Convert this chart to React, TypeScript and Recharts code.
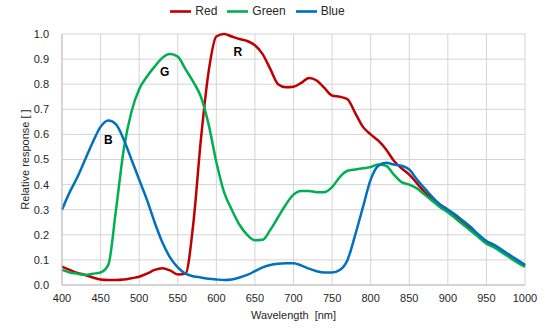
import { LineChart, Line, XAxis, YAxis, CartesianGrid, Legend, ReferenceDot } from 'recharts';

const wavelengths = [
  400, 410, 420, 430, 440, 450, 460, 470, 480, 490,
  500, 510, 520, 530, 540, 550, 560, 570, 580, 590,
  600, 610, 620, 630, 640, 650, 660, 670, 680, 690,
  700, 710, 720, 730, 740, 750, 760, 770, 780, 790,
  800, 810, 820, 830, 840, 850, 860, 870, 880, 890,
  900, 910, 920, 930, 940, 950, 960, 970, 980, 990, 1000,
];

const redValues = [
  0.073, 0.06, 0.048, 0.04, 0.03, 0.022, 0.02, 0.02, 0.022, 0.027,
  0.033, 0.045, 0.06, 0.067, 0.058, 0.042, 0.045, 0.24, 0.58, 0.85,
  0.99, 1.0, 0.99, 0.98, 0.972, 0.955, 0.92, 0.86, 0.8, 0.788,
  0.79, 0.805, 0.825, 0.815, 0.785, 0.755, 0.75, 0.74, 0.685, 0.63,
  0.6, 0.575, 0.54, 0.495, 0.465, 0.44, 0.405, 0.37, 0.345, 0.32,
  0.3, 0.275, 0.25, 0.22, 0.195, 0.17, 0.155, 0.135, 0.115, 0.095, 0.077,
];

const greenValues = [
  0.06, 0.05, 0.045, 0.04, 0.045, 0.05, 0.08, 0.3, 0.54, 0.69,
  0.78, 0.83, 0.87, 0.905, 0.92, 0.91, 0.86, 0.81, 0.75, 0.64,
  0.49, 0.37, 0.3, 0.24, 0.2, 0.178, 0.18, 0.22, 0.27, 0.32,
  0.36, 0.375, 0.375, 0.37, 0.37, 0.39, 0.43, 0.455, 0.46, 0.465,
  0.47, 0.48, 0.475, 0.44, 0.41, 0.4, 0.385, 0.36, 0.335, 0.31,
  0.29, 0.265, 0.24, 0.215, 0.19, 0.165, 0.15, 0.13, 0.11, 0.09, 0.072,
];

const blueValues = [
  0.3, 0.37, 0.43, 0.5, 0.57, 0.63, 0.655, 0.64, 0.58, 0.5,
  0.42, 0.34, 0.25, 0.17, 0.11, 0.07, 0.045, 0.035, 0.03, 0.025,
  0.022, 0.02, 0.022, 0.03, 0.04, 0.055, 0.07, 0.08, 0.085, 0.087,
  0.087, 0.078, 0.065, 0.055, 0.05, 0.05, 0.06, 0.1, 0.2, 0.31,
  0.42, 0.475, 0.487, 0.48, 0.475, 0.46, 0.42, 0.385, 0.35, 0.32,
  0.3, 0.28, 0.255, 0.23, 0.2, 0.175, 0.16, 0.14, 0.12, 0.1, 0.08,
];

const seriesNames = ['Red', 'Green', 'Blue'];
const xTicks = [400, 450, 500, 550, 600, 650, 700, 750, 800, 850, 900, 950, 1000];
const yTicks = [0, 0.1, 0.2, 0.3, 0.4, 0.5, 0.6, 0.7, 0.8, 0.9, 1.0];

// curve letters, placed in data coordinates
const curveLabels = [
  { text: 'B', wl: 460, v: 0.58 },
  { text: 'G', wl: 533, v: 0.85 },
  { text: 'R', wl: 628, v: 0.93 },
];

const data = wavelengths.map((wl, i) => ({
  wl,
  red: redValues[i],
  green: greenValues[i],
  blue: blueValues[i],
}));

const font = '"Liberation Sans", Arial, sans-serif';
const tickStyle = { fill: '#262626', fontSize: 11, fontFamily: font };

export default function App() {
  return (
    <div style={{ position: 'absolute', left: 0, top: 0, background: '#fff' }}>
      <LineChart
        width={554}
        height={331}
        data={data}
        margin={{ top: 34, right: 29, bottom: 16, left: 0 }}
      >
        <CartesianGrid stroke="#d4d4d4" strokeWidth={1} />
        <XAxis
          dataKey="wl"
          type="number"
          domain={[400, 1000]}
          ticks={xTicks}
          tickLine={false}
          axisLine={{ stroke: '#bfbfbf' }}
          tick={tickStyle}
          tickSize={0}
          tickMargin={9}
          height={30}
          label={{
            value: 'Wavelength\u00a0 [nm]',
            position: 'bottom',
            offset: -4,
            style: { fill: '#262626', fontSize: 11, fontFamily: font },
          }}
        />
        <YAxis
          type="number"
          domain={[0, 1]}
          ticks={yTicks}
          tickFormatter={(v: number) => v.toFixed(1)}
          tickLine={false}
          axisLine={{ stroke: '#bfbfbf' }}
          tick={tickStyle}
          tickSize={0}
          tickMargin={13}
          width={62}
          label={{
            value: 'Relative response [ ]',
            angle: -90,
            position: 'center',
            dx: -6,
            style: { fill: '#262626', fontSize: 11, fontFamily: font, textAnchor: 'middle' },
          }}
        />
        <Legend
          verticalAlign="middle"
          align="center"
          iconType="plainline"
          iconSize={21}
          itemSorter={(item: any) => seriesNames.indexOf(item.value)}
          wrapperStyle={{ top: 1, fontSize: 12, fontFamily: font, color: '#262626' }}
          formatter={(value: string) => <span style={{ color: '#262626' }}>{value}</span>}
        />
        <Line type="monotone" dataKey="red" name="Red" stroke="#c00000" strokeWidth={2.5} dot={false} isAnimationActive={false} />
        <Line type="monotone" dataKey="green" name="Green" stroke="#00b050" strokeWidth={2.5} dot={false} isAnimationActive={false} />
        <Line type="monotone" dataKey="blue" name="Blue" stroke="#0070c0" strokeWidth={2.5} dot={false} isAnimationActive={false} />
        {curveLabels.map((c) => (
          <ReferenceDot
            key={c.text}
            x={c.wl}
            y={c.v}
            r={0}
            fill="none"
            stroke="none"
            label={{
              value: c.text,
              position: 'center',
              style: { fill: '#000', fontSize: 12, fontWeight: 700, fontFamily: font },
            }}
          />
        ))}
      </LineChart>
    </div>
  );
}
